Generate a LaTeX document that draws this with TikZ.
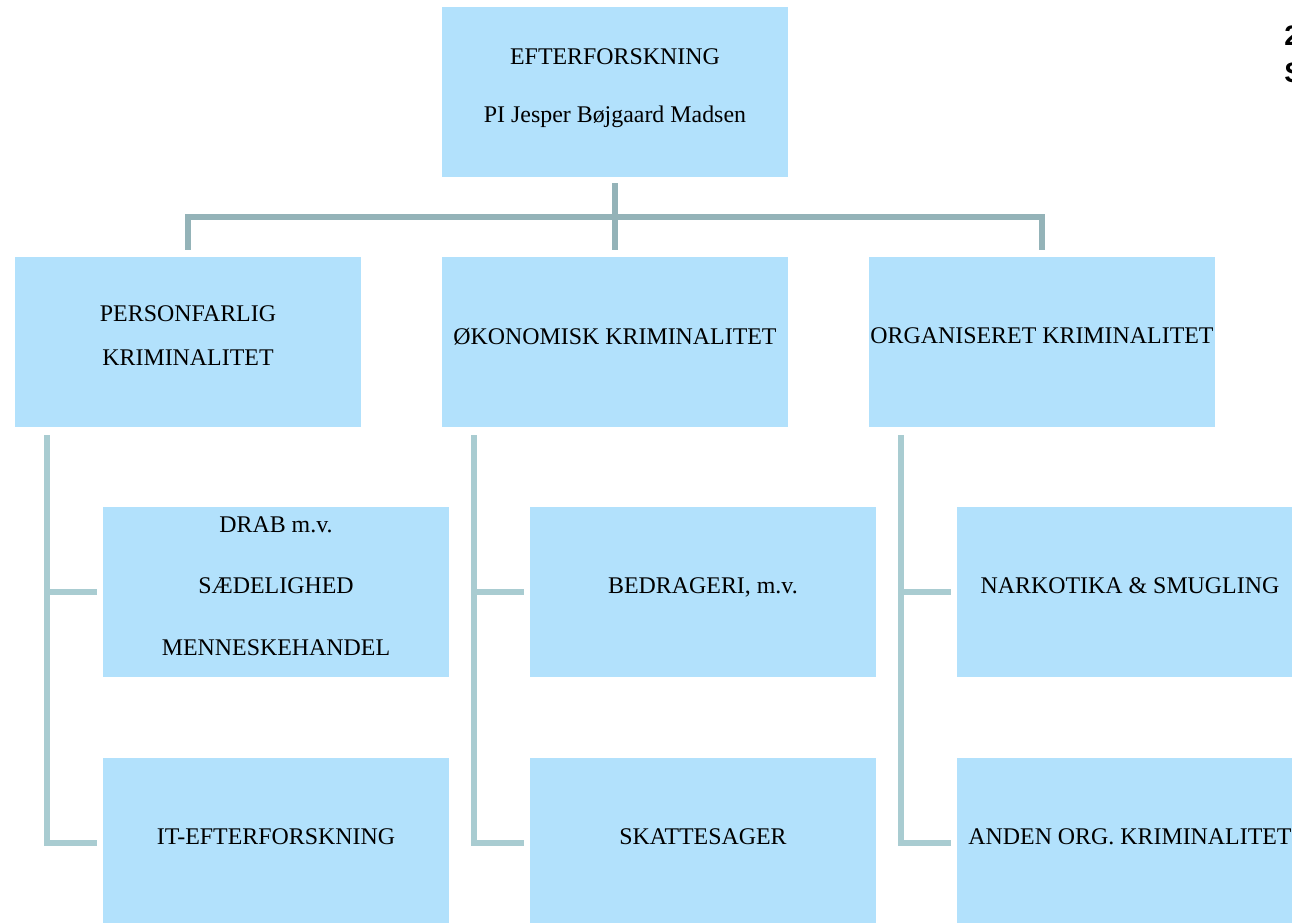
\documentclass[tikz,border=0pt]{standalone}
\usepackage{fontspec}
\setmainfont{Liberation Serif}
\newfontfamily\notefont{Liberation Sans}
\definecolor{boxblue}{HTML}{B2E1FC}
\definecolor{trunkgray}{HTML}{94B3B8}
\definecolor{branchgray}{HTML}{A9CCD1}
\tikzset{
  unit/.style={fill=boxblue, minimum width=6.92cm, minimum height=3.4cm, inner sep=0pt,
    text depth=0.24cm, align=center, font=\fontsize{13.6}{17}\selectfont},
  trunk/.style={trunkgray, line width=0.12cm},
  branch/.style={branchgray, line width=0.12cm}
}
\begin{document}
\begin{tikzpicture}[x=0.02cm,y=-0.02cm]
\useasboundingbox (0,0) rectangle (1292,923);

% top
\node[unit] (top) at (615,92) {EFTERFORSKNING\\[16pt] PI Jesper Bøjgaard Madsen};

% sections
\node[unit] (pers) at (188,342) {PERSONFARLIG\\[8pt] KRIMINALITET};
\node[unit] (oek) at (615,342) {ØKONOMISK KRIMINALITET};
\node[unit] (org) at (1042,342) {ORGANISERET KRIMINALITET};

% groups
\node[unit] (drab) at (276,592) {DRAB m.v.\\[18pt] SÆDELIGHED\\[18pt] MENNESKEHANDEL};
\node[unit] (it) at (276,843) {IT-EFTERFORSKNING};
\node[unit] (bedr) at (703,592) {BEDRAGERI, m.v.};
\node[unit] (skat) at (703,843) {SKATTESAGER};
\node[unit] (nark) at (1130,592) {NARKOTIKA \& SMUGLING};
\node[unit] (anden) at (1130,843) {ANDEN ORG. KRIMINALITET};

\node[anchor=west, align=left, inner sep=0pt, font=\notefont\bfseries\fontsize{16}{21}\selectfont] (pgnote) at (1284,54) {2\\S};

% trunk
\coordinate (bar) at (615,217);
\draw[trunk, shorten <=0.12cm, shorten >=0.14cm] (top.south) -- (oek.north);
\draw[trunk, shorten <=0.14cm, shorten >=0.14cm] (pers.north) |- (bar) -| (org.north);

% branches
\foreach \sec/\a/\b in {pers/drab/it, oek/bedr/skat, org/nark/anden} {
  \draw[branch] ([xshift=32*0.02cm, yshift=-8*0.02cm]\sec.south west) coordinate (stem)
    |- ([xshift=-6*0.02cm]\b.west);
  \draw[branch] (stem |- \a.west) -- ([xshift=-6*0.02cm]\a.west);
}
\end{tikzpicture}
\end{document}
